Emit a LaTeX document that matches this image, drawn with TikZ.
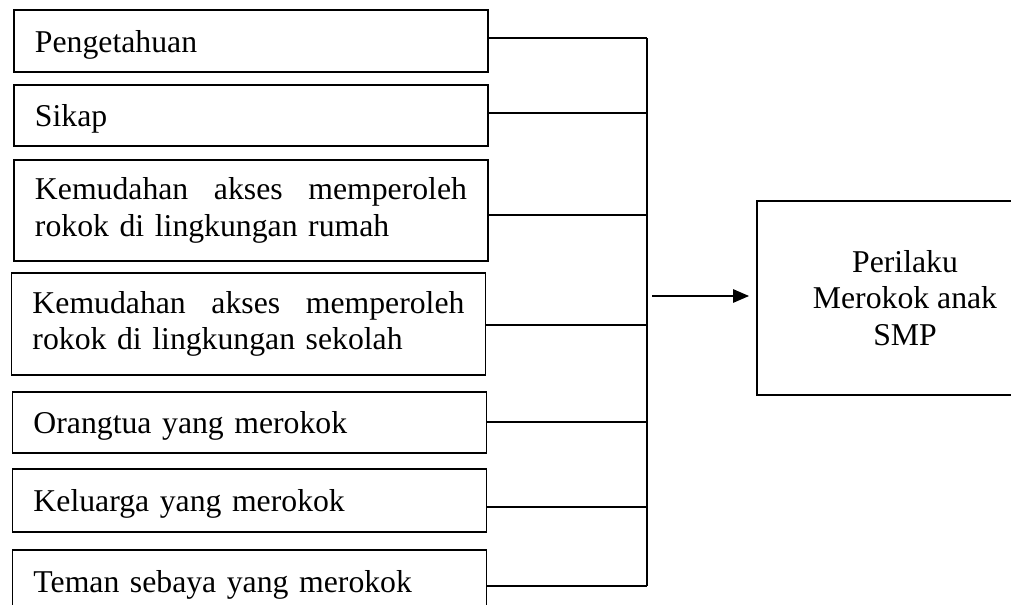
\documentclass[tikz,border=0pt]{standalone}
\usepackage{fontspec}
\setmainfont{Liberation Serif}
\usetikzlibrary{arrows.meta}
\tikzset{
  lw/.style={line width=1.4pt},
  box/.style={draw, lw, rectangle, inner xsep=15.75pt, inner ysep=0pt,
    text width=324pt, align=left, minimum height=#1*0.75pt,
    font=\fontsize{23.8pt}{27.4pt}\selectfont},
  oneline/.style={text depth=0pt},
  bigbox/.style={draw, lw, rectangle, inner sep=0pt, align=center,
    minimum width=222pt, minimum height=145.5pt,
    font=\fontsize{23.8pt}{27.4pt}\selectfont},
  conn/.style={lw},
  arr/.style={lw, -{Triangle[length=12pt,width=10pt]}},
}
\begin{document}
\begin{tikzpicture}[x=0.75pt,y=-0.75pt]
\useasboundingbox (0,0) rectangle (1011,604);
\clip (0,0) rectangle (1011,604);
\node[box=62, oneline] (b1) at (251,41) {Pengetahuan};
\node[box=61, oneline] (b2) at (251,115.5) {Sikap};
\node[box=101] (b3) at (251,210.5) {Kemudahan\hfill akses\hfill memperoleh\\rokok di lingkungan rumah};
\node[box=102] (b4) at (248.5,324) {Kemudahan\hfill akses\hfill memperoleh\\rokok di lingkungan sekolah};
\node[box=61, oneline] (b5) at (249.5,422.5) {Orangtua yang merokok};
\node[box=63, oneline] (b6) at (249.5,500.5) {Keluarga yang merokok};
\node[box=63, oneline] (b7) at (249.5,581.5) {Teman sebaya yang merokok};
\node[bigbox] (R) at (905,298) {Perilaku\\Merokok anak\\SMP};
\coordinate (j1) at (647,38);
\coordinate (j2) at (647,113);
\coordinate (j3) at (647,215);
\coordinate (j4) at (647,325);
\coordinate (j5) at (647,422);
\coordinate (j6) at (647,507);
\coordinate (j7) at (647,586);
\coordinate (jm) at (652,296);
\draw[conn] (j1) -- (j7);
\foreach \i in {1,...,7} {
  \draw[conn] (b\i.east |- j\i) -- (j\i);
}
\draw[arr, shorten >=5.25pt] (jm) -- (jm -| R.west);
\end{tikzpicture}
\end{document}
